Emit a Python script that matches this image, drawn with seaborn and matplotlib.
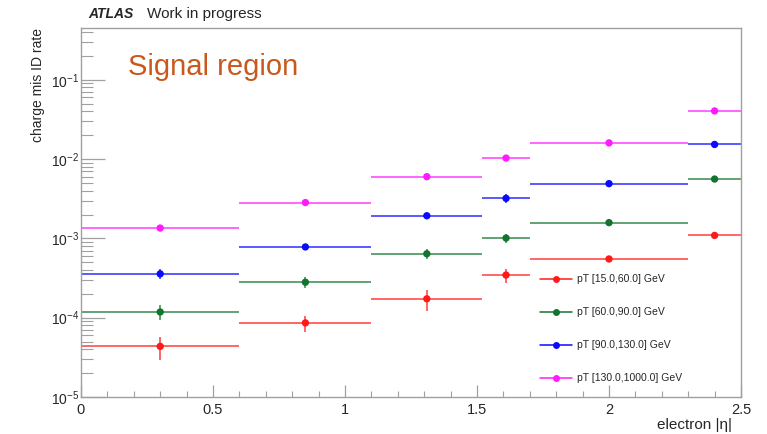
import matplotlib
matplotlib.use("Agg")
import matplotlib.pyplot as plt
import numpy as np
import pandas as pd
import seaborn as sns
from matplotlib.lines import Line2D
from matplotlib.ticker import LogLocator, NullFormatter, MultipleLocator

# eta bins and measured charge mis-ID rates per pT slice
eta_edges = [0.0, 0.6, 1.1, 1.52, 1.7, 2.3, 2.5]
pt_labels = ["pT [15.0,60.0] GeV", "pT [60.0,90.0] GeV",
             "pT [90.0,130.0] GeV", "pT [130.0,1000.0] GeV"]
rate_pt1 = [4.35e-5, 8.6e-5, 1.73e-4, 3.45e-4, 5.5e-4, 1.09e-3]
rate_pt2 = [1.18e-4, 2.8e-4, 6.4e-4, 1.01e-3, 1.58e-3, 5.6e-3]
rate_pt3 = [3.57e-4, 7.8e-4, 1.93e-3, 3.2e-3, 4.9e-3, 1.53e-2]
rate_pt4 = [1.35e-3, 2.83e-3, 6.0e-3, 1.03e-2, 1.6e-2, 4.05e-2]
err_pt1 = [1.4e-5, 2.0e-5, 5.0e-5, 7.0e-5, 3.0e-5, 6.0e-5]
err_pt2 = [2.5e-5, 4.5e-5, 9.0e-5, 1.4e-4, 6.0e-5, 1.5e-4]
err_pt3 = [5.0e-5, 6.0e-5, 1.0e-4, 4.0e-4, 1.5e-4, 4.0e-4]
err_pt4 = [8.0e-5, 1.2e-4, 2.0e-4, 4.0e-4, 4.0e-4, 1.0e-3]

colors = ["#ff1a1a", "#12742f", "#0a0aff", "#ff1aff"]

sns.set_theme(style="white")
plt.rcParams["font.family"] = ["Liberation Sans", "DejaVu Sans"]
plt.rcParams["mathtext.fontset"] = "custom"
plt.rcParams["mathtext.rm"] = "Liberation Sans"
plt.rcParams["mathtext.it"] = "Liberation Sans:italic"

edges = np.array(eta_edges)
centers = 0.5 * (edges[:-1] + edges[1:])
half_w = 0.5 * np.diff(edges)

rates = [rate_pt1, rate_pt2, rate_pt3, rate_pt4]
errs = [err_pt1, err_pt2, err_pt3, err_pt4]

df = pd.DataFrame({
    "eta": np.tile(centers, 4),
    "rate": np.concatenate(rates),
    "pt": np.repeat(pt_labels, len(centers)),
})

fig = plt.figure(figsize=(7.67, 4.34), dpi=100)
ax = fig.add_axes([0.1056, 0.0853, 0.8605, 0.8502])

for r, e, c in zip(rates, errs, colors):
    ax.errorbar(centers, r, xerr=half_w, yerr=e, fmt="none",
                ecolor=c, elinewidth=1.1, capsize=0, alpha=0.85, zorder=2)

sns.scatterplot(data=df, x="eta", y="rate", hue="pt", palette=colors,
                s=28, edgecolor="none", legend=False, ax=ax, zorder=3)

ax.set_yscale("log")
ax.set_xlim(0, 2.5)
ax.set_ylim(1e-5, 0.45)

# axis frame and ticks (ROOT look)
for sp in ["top", "right", "left", "bottom"]:
    ax.spines[sp].set_color("#a0a0a0")
    ax.spines[sp].set_linewidth(1.0)

ax.xaxis.set_major_locator(MultipleLocator(0.5))
ax.xaxis.set_minor_locator(MultipleLocator(0.1))
ax.xaxis.set_major_formatter(matplotlib.ticker.FuncFormatter(lambda v, p: f"{v:g}"))
ax.yaxis.set_major_locator(LogLocator(base=10, numticks=10))
ax.yaxis.set_minor_locator(LogLocator(base=10, subs=np.arange(2, 10), numticks=20))
ax.yaxis.set_minor_formatter(NullFormatter())

ax.tick_params(axis="x", which="major", direction="in", length=8.6, width=0.9,
               color="#a0a0a0", labelsize=10.5, pad=4, bottom=True, top=False)
ax.tick_params(axis="x", which="minor", direction="in", length=4.3, width=0.8,
               color="#a0a0a0", bottom=True, top=False)
ax.tick_params(axis="y", which="major", direction="in", length=17, width=0.9,
               color="#a0a0a0", labelsize=10, pad=1, left=True, right=False)
ax.tick_params(axis="y", which="minor", direction="in", length=8.6, width=0.8,
               color="#a0a0a0", left=True, right=False)

ax.set_xlabel("electron |η|", fontsize=11, loc="right")
ax.xaxis.set_label_coords(0.986, -0.057)
ax.set_ylabel("charge mis ID rate", fontsize=10, loc="top")
ax.yaxis.set_label_coords(-0.0545, 1.0)

handles = [Line2D([], [], color=c, marker="o", markersize=5, lw=1.1,
                  markeredgewidth=0) for c in colors]
ax.legend(handles, pt_labels, loc="upper left", bbox_to_anchor=(0.695, 0.332),
          frameon=False, fontsize=7.5, handlelength=3.1, handletextpad=0.5,
          labelspacing=2.2, borderpad=0, borderaxespad=0)

fig.text(0.1147, 0.9585, "ATLAS", fontsize=10, fontweight="bold",
         fontstyle="italic", ha="left", va="baseline")
fig.text(0.1917, 0.9585, "Work in progress", fontsize=11,
         ha="left", va="baseline")
fig.text(0.1669, 0.827, "Signal region", fontsize=21, color="#c9581c",
         ha="left", va="baseline")

fig.savefig("out.png", dpi=100)
